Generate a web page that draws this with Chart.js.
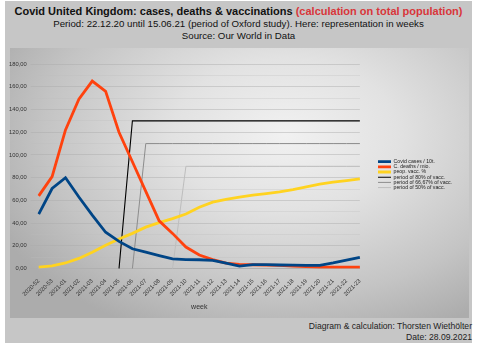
<!DOCTYPE html>
<html>
<head>
<meta charset="utf-8">
<script src="https://cdn.jsdelivr.net/npm/chart.js@4.4.1/dist/chart.umd.min.js"></script>
<style>
  html, body { margin:0; padding:0; background:#fff; }
  body { width:483px; height:350px; position:relative; overflow:hidden; font-family:"Liberation Sans", Arial, sans-serif; }
  #frame { position:absolute; left:5px; top:1px; width:467px; height:342px; background:#c6c6c6; }
  #wall { position:absolute; left:10px; top:48px; width:459px; height:270px;
          background: radial-gradient(ellipse 70% 80% at 60% 32%, #f1f1f1 0%, #e2e2e2 35%, #c4c4c4 75%, #acacac 100%); }
  #head { position:absolute; left:5px; top:5px; width:467px; text-align:center; color:#111; }
  #head .t1 { font-weight:bold; font-size:11px; line-height:13px; }
  #head .t1 span { color:#d9363a; }
  #head .t2 { font-size:9.7px; line-height:12px; }
  #foot { position:absolute; right:11px; top:321px; text-align:right; font-size:8.6px; line-height:11px; color:#222; }
  #chart { position:absolute; left:0; top:0; }
</style>
</head>
<body>
<div id="frame"></div>
<div id="wall"></div>
<div id="head">
  <div class="t1">Covid United Kingdom: cases, deaths &amp; vaccinations <span>(calculation on total population)</span></div>
  <div class="t2">Period: 22.12.20 until 15.06.21 (period of Oxford study). Here: representation in weeks</div>
  <div class="t2">Source: Our World in Data</div>
</div>
<div id="foot">Diagram &amp; calculation: Thorsten Wiethölter<br>Date: 28.09.2021</div>
<canvas id="chart" width="483" height="350"></canvas>
<script>
// weeks (x axis)
let weeks = ['2020-52','2020-53','2021-01','2021-02','2021-03','2021-04','2021-05','2021-06','2021-07','2021-08',
             '2021-09','2021-10','2021-11','2021-12','2021-13','2021-14','2021-15','2021-16','2021-17','2021-18',
             '2021-19','2021-20','2021-21','2021-22','2021-23'];

// Covid cases / 10t.
let cases = [48, 70.5, 80, 63, 47, 32, 24, 17.5, 14.5, 11.5, 8.5, 8, 7.8, 7.3, 4.8, 2.3, 3.5, 3.5, 3.2, 3, 2.9, 2.8, 5, 7.5, 10];
// C. deaths / mio.
let deaths = [64, 81, 122, 149, 165, 156, 120, 94, 68, 42, 31, 19, 12, 8, 4.8, 3.8, 3.4, 3.1, 2.9, 2.3, 1.8, 1.4, 1.4, 1.4, 1.4];
// peop. vacc. %
let vacc = [1.4, 2.5, 5, 9, 14.5, 20.5, 26, 31, 36.5, 40.5, 44, 48, 54, 58.5, 61, 63, 64.7, 66, 67.5, 69.5, 72, 74.4, 76, 77.5, 79];

// periods of vaccination (step lines)
let period80 = [null, null, null, null, null, null, 0, 130, 130, 130, 130, 130, 130, 130, 130, 130, 130, 130, 130, 130, 130, 130, 130, 130, 130];
let period67 = [null, null, null, null, null, null, null, 0, 110, 110, 110, 110, 110, 110, 110, 110, 110, 110, 110, 110, 110, 110, 110, 110, 110];
let period50 = [null, null, null, null, null, null, null, null, null, null, 0, 90, 90, 90, 90, 90, 90, 90, 90, 90, 90, 90, 90, 90, 90];

let names = ['Covid cases / 10t.', 'C. deaths / mio.', 'peop. vacc. %', 'period of 80% of vacc.', 'period of 66,67% of vacc.', 'period of 50% of vacc.'];
let color = ['#004586', '#ff420e', '#ffd320', '#000000', '#8c8c8c', '#bdbdbd'];
let widths = [2.8, 2.8, 2.8, 1.1, 1, 1];

Chart.defaults.font.family = '"Liberation Sans", Arial, sans-serif';
Chart.defaults.color = '#222';

// put legend where the original has it
const legendSpot = {
  id: 'legendSpot',
  afterLayout(chart) {
    let lg = chart.legend;
    let w = lg.width, h = lg.height;
    lg.left = 378; lg.right = 378 + w;
    lg.top = 159; lg.bottom = 159 + h;
  }
};

let series = [cases, deaths, vacc, period80, period67, period50];
let sets = [];
for (let i = 0; i < series.length; i++) {
  sets.push({
    label: names[i],
    data: series[i],
    borderColor: color[i],
    backgroundColor: color[i],
    borderWidth: widths[i],
    pointRadius: 0,
    tension: 0,
    spanGaps: false
  });
}

new Chart(document.getElementById('chart'), {
  type: 'line',
  data: { labels: weeks, datasets: sets },
  plugins: [legendSpot],
  options: {
    responsive: false,
    animation: false,
    layout: { padding: { left: 5, top: 64, right: 39, bottom: 35 } },
    plugins: {
      legend: {
        position: 'right',
        align: 'start',
        labels: { usePointStyle: true, pointStyle: 'line', pointStyleWidth: 13, padding: 0, font: { size: 5.2 }, color: '#222' }
      },
      tooltip: { enabled: false }
    },
    scales: {
      x: {
        offset: false,
        grid: { display: false },
        border: { color: '#b0b0b0' },
        ticks: { minRotation: 45, maxRotation: 45, autoSkip: false, font: { size: 5.8 }, color: '#333', padding: 1 },
        title: { display: true, text: 'week', font: { size: 7 }, color: '#333', padding: { top: 4 } }
      },
      y: {
        min: 0, max: 180,
        border: { display: false },
        grid: { color: function(c) { return c.tick.value % 20 == 0 ? 'rgba(170,170,170,0.45)' : 'rgba(190,190,190,0.3)'; } },
        ticks: {
          stepSize: 10, font: { size: 5.8 }, color: '#333', padding: 4,
          callback: function(v) { return v % 20 == 0 ? v.toFixed(2).replace('.', ',') : ''; }
        }
      }
    }
  }
});
</script>
</body>
</html>
